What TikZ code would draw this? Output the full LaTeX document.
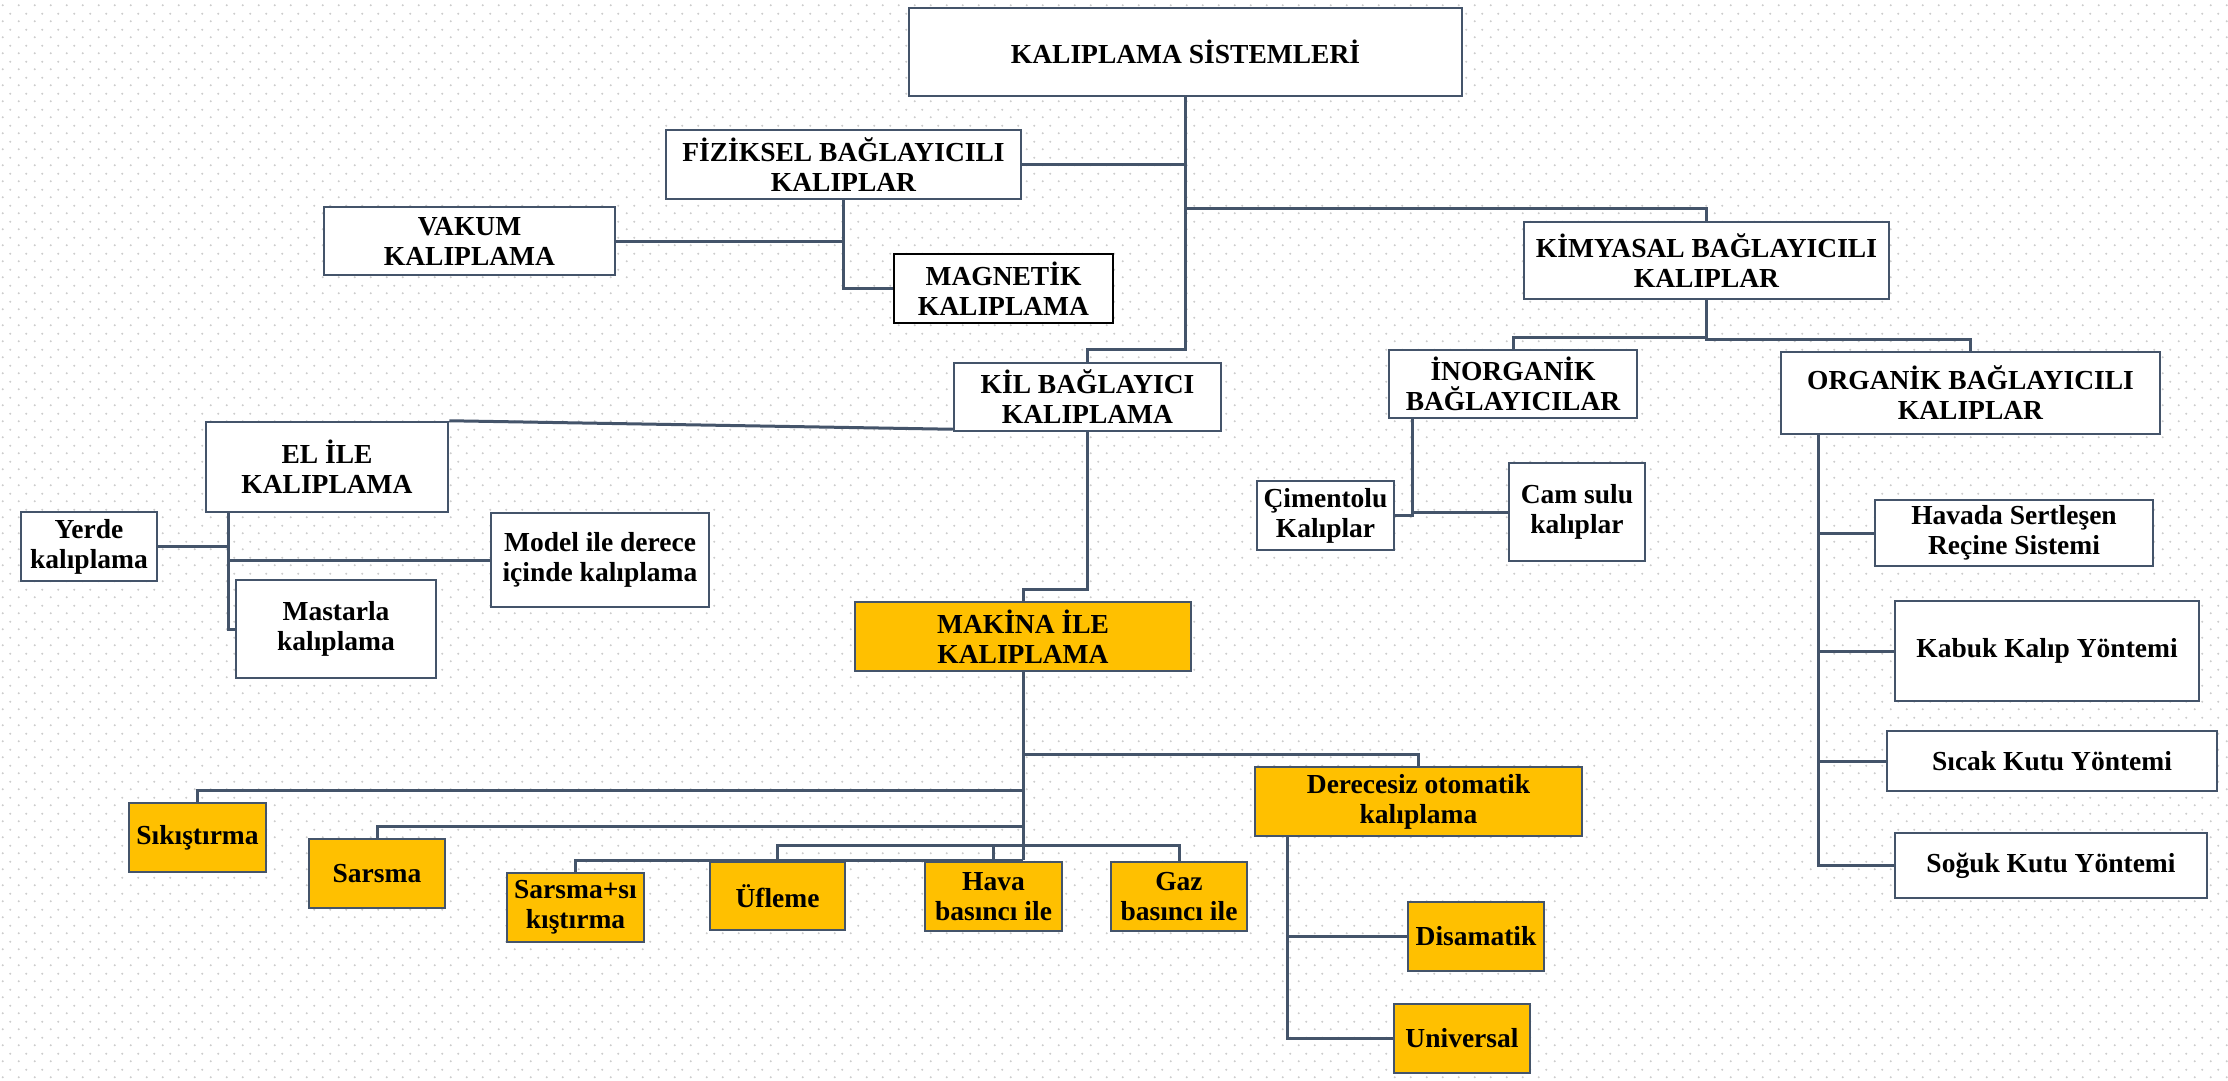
\documentclass[tikz,border=0pt]{standalone}
\usepackage{fontspec}
\setmainfont{Liberation Serif}
\usetikzlibrary{patterns.meta,calc}
\definecolor{lc}{HTML}{44546A}
\definecolor{og}{HTML}{FFC000}
\newcommand\boxfont{\fontsize{27.5}{30}\selectfont\bfseries}
\tikzdeclarepattern{
  name=bgdots,
  type=uncolored,
  bounding box={(0pt,0pt) and (16pt,16pt)},
  tile size={(16pt,16pt)},
  code={
    \fill (4pt,4pt) circle (1.2pt);
    \fill (12pt,12pt) circle (1.2pt);
  }
}
\pgfdeclarelayer{back}
\pgfdeclarelayer{lines}
\pgfsetlayers{back,lines,main}
\newcommand\bx[7]{\node[#7, minimum width={#4-#2}, minimum height={#5-#3}] (#1) at ({(#2+#4)/2},{(#3+#5)/2}) {#6};}
\begin{document}
\begin{tikzpicture}[x=1pt,y=-1pt,
  box/.style={draw=lc,line width=2.5pt,fill=white,align=center,inner sep=0pt,font=\boxfont,text=black},
  obox/.style={box,fill=og},
  conn/.style={draw=lc,line width=3pt}]
\useasboundingbox (0,0) rectangle (2228,1081);
\begin{pgfonlayer}{back}
\fill[white] (0,0) rectangle (2228,1081);
\fill[pattern=bgdots,pattern color=black!20] (0,0) rectangle (2228,1081);
\end{pgfonlayer}

\bx{top}{909}{8}{1462}{96}{KALIPLAMA SİSTEMLERİ}{box}
\bx{fiz}{666}{130}{1021}{199}{FİZİKSEL BAĞLAYICILI\\KALIPLAR}{box}
\bx{vak}{324}{207}{615}{275}{VAKUM\\KALIPLAMA}{box}
\bx{mag}{894}{254}{1113}{323}{MAGNETİK\\KALIPLAMA}{box,draw=black}
\bx{kim}{1524}{222}{1889}{299}{KİMYASAL BAĞLAYICILI\\KALIPLAR}{box}
\bx{kil}{954}{363}{1221}{431}{KİL BAĞLAYICI\\KALIPLAMA}{box}
\bx{el}{206}{422}{448}{512}{EL İLE\\KALIPLAMA}{box}
\bx{yer}{21}{512}{157}{581}{Yerde\\kalıplama}{box}
\bx{mod}{491}{513}{709}{607}{Model ile derece\\içinde kalıplama}{box}
\bx{mas}{236}{580}{436}{678}{Mastarla\\kalıplama}{box}
\bx{mak}{855}{602}{1191}{671}{MAKİNA İLE\\KALIPLAMA}{obox}
\bx{der}{1255}{767}{1582}{836}{Derecesiz otomatik\\kalıplama}{obox}
\bx{sik}{129}{803}{266}{872}{Sıkıştırma}{obox}
\bx{sars}{309}{839}{445}{908}{Sarsma}{obox}
\bx{ss}{507}{873}{644}{942}{Sarsma+sı\\kıştırma}{obox}
\bx{ufl}{710}{862}{845}{930}{Üfleme}{obox}
\bx{hava}{925}{862}{1062}{931}{Hava\\basıncı ile}{obox}
\bx{gaz}{1111}{862}{1247}{931}{Gaz\\basıncı ile}{obox}
\bx{dis}{1408}{902}{1544}{971}{Disamatik}{obox}
\bx{uni}{1394}{1004}{1530}{1073}{Universal}{obox}
\bx{ino}{1389}{350}{1637}{418}{İNORGANİK\\BAĞLAYICILAR}{box}
\bx{org}{1781}{352}{2160}{434}{ORGANİK BAĞLAYICILI\\KALIPLAR}{box}
\bx{cim}{1257}{481}{1394}{550}{Çimentolu\\Kalıplar}{box}
\bx{cam}{1509}{463}{1645}{561}{Cam sulu\\kalıplar}{box}
\bx{hav}{1875}{500}{2153}{566}{Havada Sertleşen\\Reçine Sistemi}{box}
\bx{kab}{1895}{601}{2199}{701}{Kabuk Kalıp Yöntemi}{box}
\bx{sic}{1887}{731}{2217}{791}{Sıcak Kutu Yöntemi}{box}
\bx{sog}{1895}{833}{2207}{898}{Soğuk Kutu Yöntemi}{box}

\coordinate (ev) at ($(el.south west)+(24,0)$);
\coordinate (dv) at ($(der.south west)+(34,0)$);
\coordinate (iv) at ($(ino.south west)+(25,0)$);
\coordinate (ov) at ($(org.south west)+(39,0)$);

\begin{pgfonlayer}{lines}
\draw[conn] (top.south) -- ++(0,252) -| (kil.north);
\draw[conn] (fiz.east) -- (fiz.east -| top.south);
\draw[conn] (top.south) ++(0,111) -| (kim.north);
\draw[conn] (vak.east) -| (fiz.south);
\draw[conn] (fiz.south) |- (mag.west);
\draw[conn] (el.north east) -- ($(kil.south west)+(0,-3)$);
\draw[conn] (ev) |- (mas.west);
\draw[conn] (yer.east) -- (yer.east -| ev);
\draw[conn] (mod.west) -- (mod.west -| ev);
\draw[conn] (kil.south) -- ++(0,157) -| (mak.north);
\draw[conn] (mak.south) -- ++(0,188);
\draw[conn] (mak.south) ++(0,82) -| (der.north);
\draw[conn] (mak.south) ++(0,118) -| (sik.north);
\draw[conn] (mak.south) ++(0,154) -| (sars.north);
\draw[conn] (mak.south) ++(0,188) -| (ss.north);
\draw[conn] (ufl.north) -- ++(0,-15) -| (gaz.north);
\draw[conn] (hava.north) -- ++(0,-15);
\draw[conn] (dv) |- (uni.west);
\draw[conn] (dis.west) -- (dis.west -| dv);
\draw[conn] (kim.south) -- ++(0,37) -| (ino.north);
\draw[conn] (kim.south) -- ++(0,39) -| (org.north);
\draw[conn] (iv) |- (cim.east);
\draw[conn] (cam.west) -- (cam.west -| iv);
\draw[conn] (ov) |- (sog.west);
\draw[conn] (hav.west) -- (hav.west -| ov);
\draw[conn] (kab.west) -- (kab.west -| ov);
\draw[conn] (sic.west) -- (sic.west -| ov);
\end{pgfonlayer}
\end{tikzpicture}
\end{document}
